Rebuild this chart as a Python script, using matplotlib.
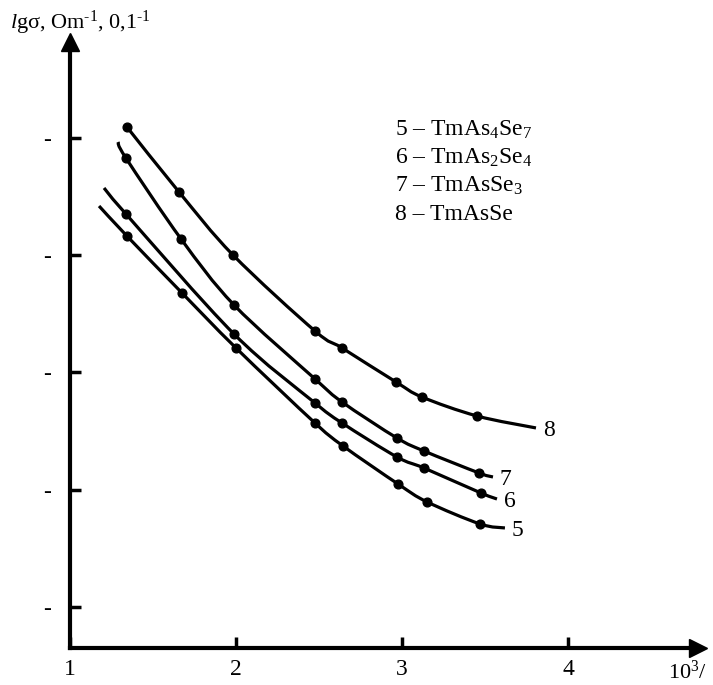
import matplotlib
matplotlib.use("Agg")
import matplotlib.pyplot as plt
from matplotlib.path import Path
from matplotlib.patches import PathPatch

plt.rcParams['font.family'] = ['Liberation Serif', 'DejaVu Serif']
plt.rcParams['mathtext.fontset'] = 'custom'
plt.rcParams['mathtext.rm'] = 'Liberation Serif'
plt.rcParams['mathtext.it'] = 'Liberation Serif:italic'

# measured points (dots) of each curve, plus where each drawn line starts / ends
x8 = [1.343, 1.657, 1.982, 2.476, 2.639, 2.964, 3.120, 3.452]
y8 = [5.094, 4.539, 4.002, 3.354, 3.209, 2.919, 2.791, 2.629]
x7 = [1.337, 1.669, 1.988, 2.476, 2.639, 2.970, 3.133, 3.464]
y7 = [4.829, 4.139, 3.576, 2.945, 2.748, 2.441, 2.330, 2.143]
x6 = [1.337, 1.988, 2.476, 2.639, 2.970, 3.133, 3.476]
y6 = [4.352, 3.328, 2.740, 2.569, 2.279, 2.185, 1.972]
x5 = [1.343, 1.675, 2.000, 2.476, 2.645, 2.976, 3.151, 3.470]
y5 = [4.164, 3.678, 3.209, 2.569, 2.373, 2.049, 1.896, 1.708]

starts = {'8': None, '7': (1.289, 4.966), '6': (1.205, 4.574), '5': (1.175, 4.420)}
ends = {'8': (3.807, 2.527), '7': (3.548, 2.109), '6': (3.572, 1.921), '5': (3.620, 1.674)}

legend_lines = ["5 – TmAs$_4$Se$_7$", "6 – TmAs$_2$Se$_4$",
                "7 – TmAsSe$_3$", "8 – TmAsSe"]
xtick_vals = [1, 2, 3, 4]
ytick_vals = [1, 2, 3, 4, 5]


def smooth_path(xs, ys):
    # catmull-rom through the points, drawn as cubic bezier segments
    pts = list(zip(xs, ys))
    verts = [pts[0]]
    codes = [Path.MOVETO]
    for i in range(len(pts) - 1):
        p0 = pts[i - 1] if i > 0 else pts[i]
        p1 = pts[i]
        p2 = pts[i + 1]
        p3 = pts[i + 2] if i + 2 < len(pts) else pts[i + 1]
        c1 = (p1[0] + (p2[0] - p0[0]) / 6, p1[1] + (p2[1] - p0[1]) / 6)
        c2 = (p2[0] - (p3[0] - p1[0]) / 6, p2[1] - (p3[1] - p1[1]) / 6)
        verts += [c1, c2, p2]
        codes += [Path.CURVE4] * 3
    return Path(verts, codes)


fig = plt.figure(figsize=(7.13, 6.85), dpi=100)
ax = fig.add_axes([70 / 713, 37 / 685, 628 / 713, 606 / 685])
ax.set_xlim(1, 4.783)
ax.set_ylim(0.65, 5.819)

curves = [('8', x8, y8), ('7', x7, y7), ('6', x6, y6), ('5', x5, y5)]
for name, xs, ys in curves:
    px = list(xs)
    py = list(ys)
    if starts[name] is not None:
        px = [starts[name][0]] + px
        py = [starts[name][1]] + py
    px.append(ends[name][0])
    py.append(ends[name][1])
    ax.add_patch(PathPatch(smooth_path(px, py), fill=False, lw=2.3,
                           edgecolor='black', capstyle='butt'))
    ax.plot(xs, ys, 'o', color='black', markersize=6.3)
    ax.annotate(name, ends[name], xytext=(5, -2), textcoords='offset points',
                ha='left', va='center', fontsize=17)

for s in ['top', 'right']:
    ax.spines[s].set_visible(False)
for s in ['left', 'bottom']:
    ax.spines[s].set_linewidth(3)
ax.plot(1, 0, '>', color='black', markersize=13, transform=ax.transAxes, clip_on=False)
ax.plot(0, 1, '^', color='black', markersize=13, transform=ax.transAxes, clip_on=False)

ax.set_xticks(xtick_vals)
ax.set_xticklabels([str(v) for v in xtick_vals])
ax.set_yticks(ytick_vals)
ax.set_yticklabels(['-'] * len(ytick_vals))
ax.tick_params(axis='x', direction='in', length=8, width=2.5, pad=8, labelsize=17)
ax.tick_params(axis='y', direction='in', length=8, width=2.5, pad=14, labelsize=17)

fig.text(10 / 713, 1 - 23 / 685,
         r"$\mathit{l}$gσ, Om$^{\text{-1}}$, 0,1$^{\text{-1}}$",
         ha='left', va='center', fontsize=16)
fig.text(668 / 713, 1 - 672 / 685, "10$^3$/", ha='left', va='center', fontsize=16)

for i, line in enumerate(legend_lines):
    fig.text(395 / 713, 1 - (130 + 28 * i) / 685, line, ha='left', va='center', fontsize=17)

fig.savefig("out.png", dpi=100)
